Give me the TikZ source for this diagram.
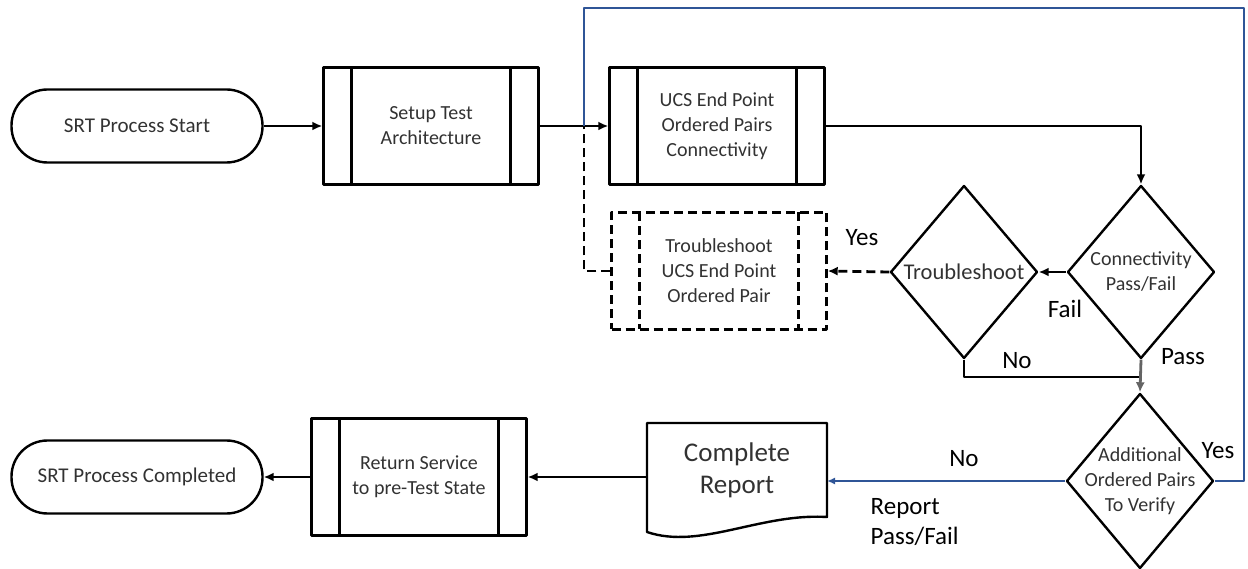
\documentclass[tikz,border=0pt]{standalone}
\usepackage{fontspec}
\setmainfont{Carlito}
\usetikzlibrary{shapes.geometric,arrows.meta}
\definecolor{linkblue}{RGB}{47,85,151}
\definecolor{txtgray}{RGB}{50,50,50}
\definecolor{arrowgray}{RGB}{100,100,100}
\begin{document}
\begin{tikzpicture}[x=1pt,y=-1pt,line join=round,>={Latex[length=10pt,width=9pt]},line width=2.8pt]
	\tikzset{
		terminal/.style={draw,line width=2.4pt,rectangle,rounded corners=36pt,minimum width=251pt,minimum height=73pt,font=\fontsize{21}{26}\selectfont,text=txtgray},
		subproc/.style={draw,line width=2.4pt,rectangle,minimum width=215pt,minimum height=117pt,align=center,font=\fontsize{20}{25}\selectfont,text=txtgray,
			path picture={\draw[line width=2.4pt,#1] ([xshift=28pt]path picture bounding box.north west) -- ([xshift=28pt]path picture bounding box.south west)
				([xshift=-28pt]path picture bounding box.north east) -- ([xshift=-28pt]path picture bounding box.south east);}},
		subproc/.default={solid},
		dashbox/.style={dash pattern=on 9pt off 5pt},
		decision/.style={draw,line width=2.4pt,diamond,inner sep=0pt,minimum width=147pt,minimum height=173pt},
		dtext/.style={align=center,font=\fontsize{20}{25}\selectfont,text=txtgray},
		lbl/.style={font=\fontsize{25}{30}\selectfont},
		blueline/.style={draw=linkblue,line width=2.2pt,>={Latex[length=8pt,width=7pt]}}
	}
	\useasboundingbox (0,0) rectangle (1248,569);

	% top row
	\node[terminal] (start) at (137,126) {SRT Process Start};
	\node[subproc] (setup) at (431,126) {Setup Test\\Architecture};
	\node[subproc] (ucs) at (717,126) {UCS End Point\\Ordered Pairs\\Connectivity};
	\node[subproc=dashbox,dashbox] (tsbox) at (719,271) {Troubleshoot\\UCS End Point\\Ordered Pair};

	% decisions
	\node[decision] (conn) at (1141,272) {};
	\node[dtext] (conntext) at (conn) {Connectivity\\Pass/Fail};
	\node[decision] (trbl) at (964,272) {};
	\node[dtext,font=\fontsize{22.5}{27}\selectfont] (trbltext) at (trbl) {Troubleshoot};
	\node[decision,minimum height=175pt] (add) at (1140,481) {};
	\node[dtext] (addtext) at (add) {Additional\\Ordered Pairs\\To Verify};

	% bottom row
	\node[rectangle,outer sep=0pt,minimum width=180pt,minimum height=94pt,align=center,font=\fontsize{27}{32}\selectfont,text=txtgray] (doc) at (737,470) {Complete\\Report};
	\draw[line width=2.4pt] (doc.north west) -- (doc.north east) -- (doc.south east)
		.. controls +(-67,-4) and +(53,18) .. ([yshift=-15pt]doc.south west) -- cycle;
	\node[subproc] (ret) at (419,477) {Return Service\\to pre-Test State};
	\node[terminal] (end) at (137,477) {SRT Process Completed};

	% labels
	\node[lbl] (yes1) at (862,238) {Yes};
	\node[lbl] (fail) at (1065,309) {Fail};
	\node[lbl] (no1) at (1017,361) {No};
	\node[lbl] (pass) at (1183,357) {Pass};
	\node[lbl] (yes2) at (1218,451) {Yes};
	\node[lbl] (no2) at (964,459) {No};
	\node[lbl,align=left,anchor=west] (rpf) at (866,522) {Report\\Pass/Fail};

	% connectors
	\coordinate (j) at (584,126);
	\coordinate (nojoin) at (1141,377);
	\coordinate (loop) at (1244,8);
	\draw[->] (start) -- (setup);
	\draw[->] (setup) -- (ucs);
	\draw[->] (ucs.east) -| (conn.north);
	\draw[->] (conn.west) -- (trbl.east);
	\draw[->,dashbox] (trbl.west) -- (tsbox.east);
	\draw[dashbox] (tsbox.west) -| (j);
	\draw (trbl.south) |- (nojoin);
	\draw[->,arrowgray] (conn.south) -- (add.north);
	\draw[blueline] (add.east) -| (loop) -| (j);
	\draw[blueline,->] (add.west) -- (add.west -| doc.east);
	\draw[->] (doc.west |- ret.east) -- (ret.east);
	\draw[->] (ret.west) -- (end.east);
\end{tikzpicture}
\end{document}
